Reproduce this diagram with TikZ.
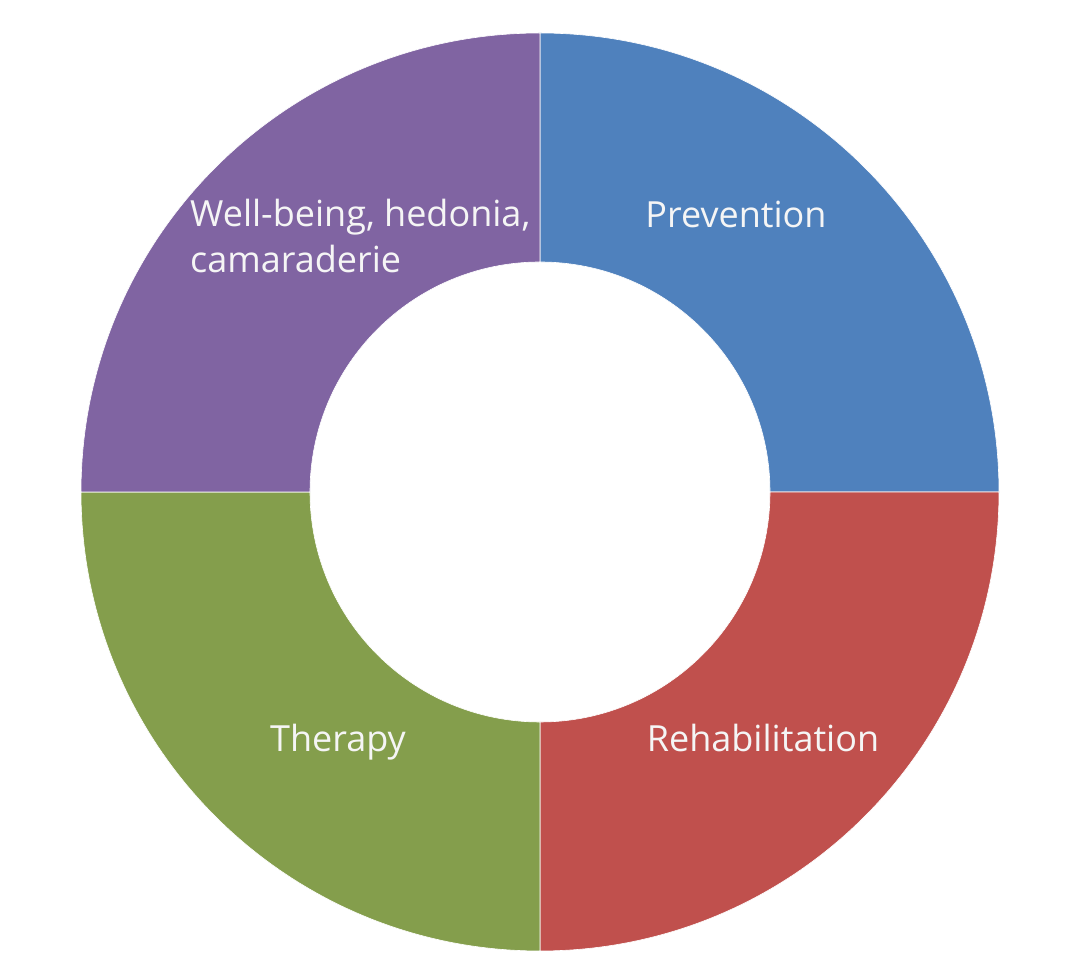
\documentclass[tikz,border=0pt]{standalone}
\usepackage{fontspec}
\setmainfont{Open Sans}
\usetikzlibrary{positioning}

\definecolor{prevblue}{RGB}{79,129,189}
\definecolor{rehabred}{RGB}{192,80,77}
\definecolor{therapygreen}{RGB}{132,158,76}
\definecolor{wellpurple}{RGB}{128,100,162}

\begin{document}
\begin{tikzpicture}[
    x=1pt, y=1pt,
    slice/.style={draw=white, line width=0.6pt},
    slicelabel/.style={
        text=white!96!black, font=\fontsize{36}{46}\selectfont, inner sep=0pt
    }
]
\useasboundingbox (0,0) rectangle (1080,977);

% Ring segments (outer radius 459, inner radius 230)
\begin{scope}[shift={(540,485)}]
\foreach \a/\col in {0/prevblue, 270/rehabred, 180/therapygreen, 90/wellpurple}{
    \fill[slice, fill=\col] (\a:459) arc[start angle=\a, end angle=\a+90, radius=459]
        -- (\a+90:230) arc[start angle=\a+90, end angle=\a, radius=230] -- cycle;
}
\end{scope}

% Labels
\node[slicelabel, anchor=base] (prevention) at (736,749) {Prevention};
\node[slicelabel, anchor=base] (rehab) at (763,225) {Rehabilitation};
\node[slicelabel, anchor=base] (therapy) at (338,225) {Therapy};
\node[slicelabel, anchor=north west, align=left] (wellbeing) at (190,778)
    {Well-being, hedonia,\\camaraderie};

\end{tikzpicture}
\end{document}
